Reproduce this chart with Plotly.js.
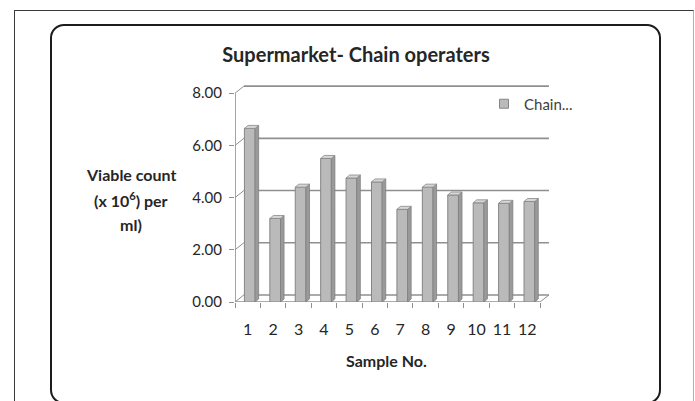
<!DOCTYPE html>
<html>
<head>
<meta charset="utf-8">
<script src="https://cdn.plot.ly/plotly-3.0.1.min.js"></script>
<style>
  html, body { margin: 0; padding: 0; background: #ffffff; }
  #wrap { position: relative; width: 695px; height: 401px; overflow: hidden; }
  #frame { position: absolute; left: 14px; top: 10px; width: 678px; height: 400px;
           border-left: 1px solid #3a3a3a; border-top: 1px solid #3a3a3a; border-right: 1px solid #b0b0b0; }
  #card { position: absolute; left: 50px; top: 24px; width: 607px; height: 376px;
          border: 2px solid #1c1c1c; border-radius: 14px; }
  #chart { position: absolute; left: 0; top: 0; width: 695px; height: 401px; }
</style>
</head>
<body>
<div id="wrap">
  <div id="frame"></div>
  <div id="card"></div>
  <div id="chart"></div>
</div>
<script>
// Viable count per sample (x 10^6 per ml)
const sampleNo = [1, 2, 3, 4, 5, 6, 7, 8, 9, 10, 11, 12];
const sampleLabels = ['1', '2', '3', '4', '5', '6', '7', '8', '9', '10', '11', '12'];
const viableCount = [6.65, 3.2, 4.4, 5.5, 4.75, 4.6, 3.55, 4.4, 4.1, 3.8, 3.78, 3.85];
const yTickVals = [0, 2, 4, 6, 8];
const yTickText = ['0.00', '2.00', '4.00', '6.00', '8.00'];
const seriesName = 'Chain...';
const yTitleLines = ['Viable count', '(x 10<sup>6</sup>) per', 'ml)'];

// pseudo-3D geometry (in axis units)
const DX = 0.35, DY = 0.27;          // depth of back wall
const PADX = 0.12, PADY = 0.12;      // room so the back edges are not clipped
const BAR_OFF = -0.13, BAR_W = 0.42; // front face of each column
const BDX = 0.14, BDY = 0.115;       // column depth

const xMin = sampleNo[0] - 0.5, xMax = sampleNo[sampleNo.length - 1] + 0.5;
const yMax = yTickVals[yTickVals.length - 1];

// pixel frame of the plotting area
const W = 695, H = 401;
const XS = 25.42, YS = 26.1;         // px per axis unit
const PLOT_L = 235, PLOT_B = 302;
const PLOT_R = PLOT_L + (xMax + DX + PADX - xMin) * XS;
const PLOT_T = PLOT_B - (yMax + DY + PADY) * YS;
const px = v => (v - PLOT_L) / (PLOT_R - PLOT_L);
const py = v => (PLOT_B - v) / (PLOT_B - PLOT_T);

const frameCol = '#8f8f8f';

const shapes = [];
const seg = (x0, y0, x1, y1, w) => shapes.push({
  type: 'line', xref: 'x', yref: 'y', x0, y0, x1, y1, layer: 'below',
  line: { color: frameCol, width: w || 1.6 }
});
// back wall gridlines and the links from the front ticks
yTickVals.forEach(v => {
  seg(xMin + DX, v + DY, xMax + DX, v + DY);
  seg(xMin, v, xMin + DX, v + DY, 1);
});
// floor
seg(xMin, 0, xMax, 0);
seg(xMax, 0, xMax + DX, DY, 1);
// front value axis
seg(xMin, 0, xMin, yMax, 1.6);

// side and top faces of the columns
const sideX = [], sideY = [], topX = [], topY = [];
sampleNo.forEach((x, i) => {
  const v = viableCount[i];
  const f0 = x + BAR_OFF, f1 = x + BAR_OFF + BAR_W;
  sideX.push(f1, f1 + BDX, f1 + BDX, f1, f1, null);
  sideY.push(0, BDY, v + BDY, v, 0, null);
  topX.push(f0, f1, f1 + BDX, f0 + BDX, f0, null);
  topY.push(v, v, v + BDY, v + BDY, v, null);
});

const traces = [
  {
    type: 'bar', x: sampleNo, y: viableCount, width: BAR_W, offset: BAR_OFF,
    marker: { color: '#bababa', line: { color: '#858585', width: 1 } },
    showlegend: false, hoverinfo: 'x+y', name: seriesName
  },
  {
    type: 'scatter', x: sideX, y: sideY, mode: 'lines', fill: 'toself',
    fillcolor: '#9a9a9a', line: { color: '#808080', width: 0.8 },
    showlegend: false, hoverinfo: 'skip'
  },
  {
    type: 'scatter', x: topX, y: topY, mode: 'lines', fill: 'toself',
    fillcolor: '#d6d6d6', line: { color: '#888888', width: 0.8 },
    showlegend: false, hoverinfo: 'skip'
  },
  {
    type: 'scatter', x: [null], y: [null], mode: 'markers', name: seriesName,
    marker: { symbol: 'square', size: 9, color: '#bababa', line: { color: '#858585', width: 1 } },
    showlegend: true, hoverinfo: 'skip'
  }
];

const font = 'Lato, "Open Sans", sans-serif';
const ink = '#262626';

// value-axis title, one annotation per line
const yTitle = yTitleLines.map((t, i) => ({
  text: '<b>' + t + '</b>',
  xref: 'paper', yref: 'paper', x: px(131), y: py(175 + 25 * i),
  xanchor: 'center', yanchor: 'middle', showarrow: false,
  font: { family: font, size: 16, color: ink }
}));

const layout = {
  width: W, height: H,
  margin: { l: PLOT_L, r: W - PLOT_R, t: PLOT_T, b: H - PLOT_B, pad: 0 },
  paper_bgcolor: 'rgba(0,0,0,0)', plot_bgcolor: 'rgba(0,0,0,0)',
  font: { family: font, size: 15, color: ink },
  title: {
    text: '<b>Supermarket- Chain operaters</b>',
    font: { family: font, size: 20, color: ink },
    x: 356 / W, xanchor: 'center', xref: 'container',
    y: 1 - 55 / H, yanchor: 'middle', yref: 'container'
  },
  xaxis: {
    range: [xMin, xMax + DX + PADX], showgrid: false, zeroline: false, showline: false,
    tickmode: 'array', tickvals: sampleNo, ticktext: sampleLabels, ticks: '',
    ticklabelstandoff: 16, tickfont: { family: font, size: 16, color: ink },
    minor: {
      tickmode: 'array', tickvals: sampleNo.map(x => x - 0.5).concat([xMax]),
      ticks: 'outside', ticklen: 5, tickwidth: 1, tickcolor: frameCol, showgrid: false
    },
    fixedrange: true
  },
  yaxis: {
    range: [0, yMax + DY + PADY], showgrid: false, zeroline: false, showline: false,
    tickmode: 'array', tickvals: yTickVals, ticktext: yTickText,
    ticks: 'outside', ticklen: 5, tickwidth: 1, tickcolor: frameCol,
    ticklabelstandoff: 4, tickfont: { family: font, size: 15, color: ink },
    fixedrange: true
  },
  legend: {
    x: px(484), y: py(104), xanchor: 'left', yanchor: 'middle',
    bgcolor: 'rgba(0,0,0,0)', font: { family: font, size: 15, color: '#404040' },
    itemwidth: 30, tracegroupgap: 0
  },
  shapes: shapes,
  annotations: yTitle.concat([
    {
      text: '<b>Sample No.</b>',
      xref: 'paper', yref: 'paper', x: px(386), y: py(360),
      xanchor: 'center', yanchor: 'middle', showarrow: false,
      font: { family: font, size: 16, color: ink }
    }
  ]),
  bargap: 0
};

Plotly.newPlot('chart', traces, layout, { displayModeBar: false, staticPlot: true });
</script>
</body>
</html>
